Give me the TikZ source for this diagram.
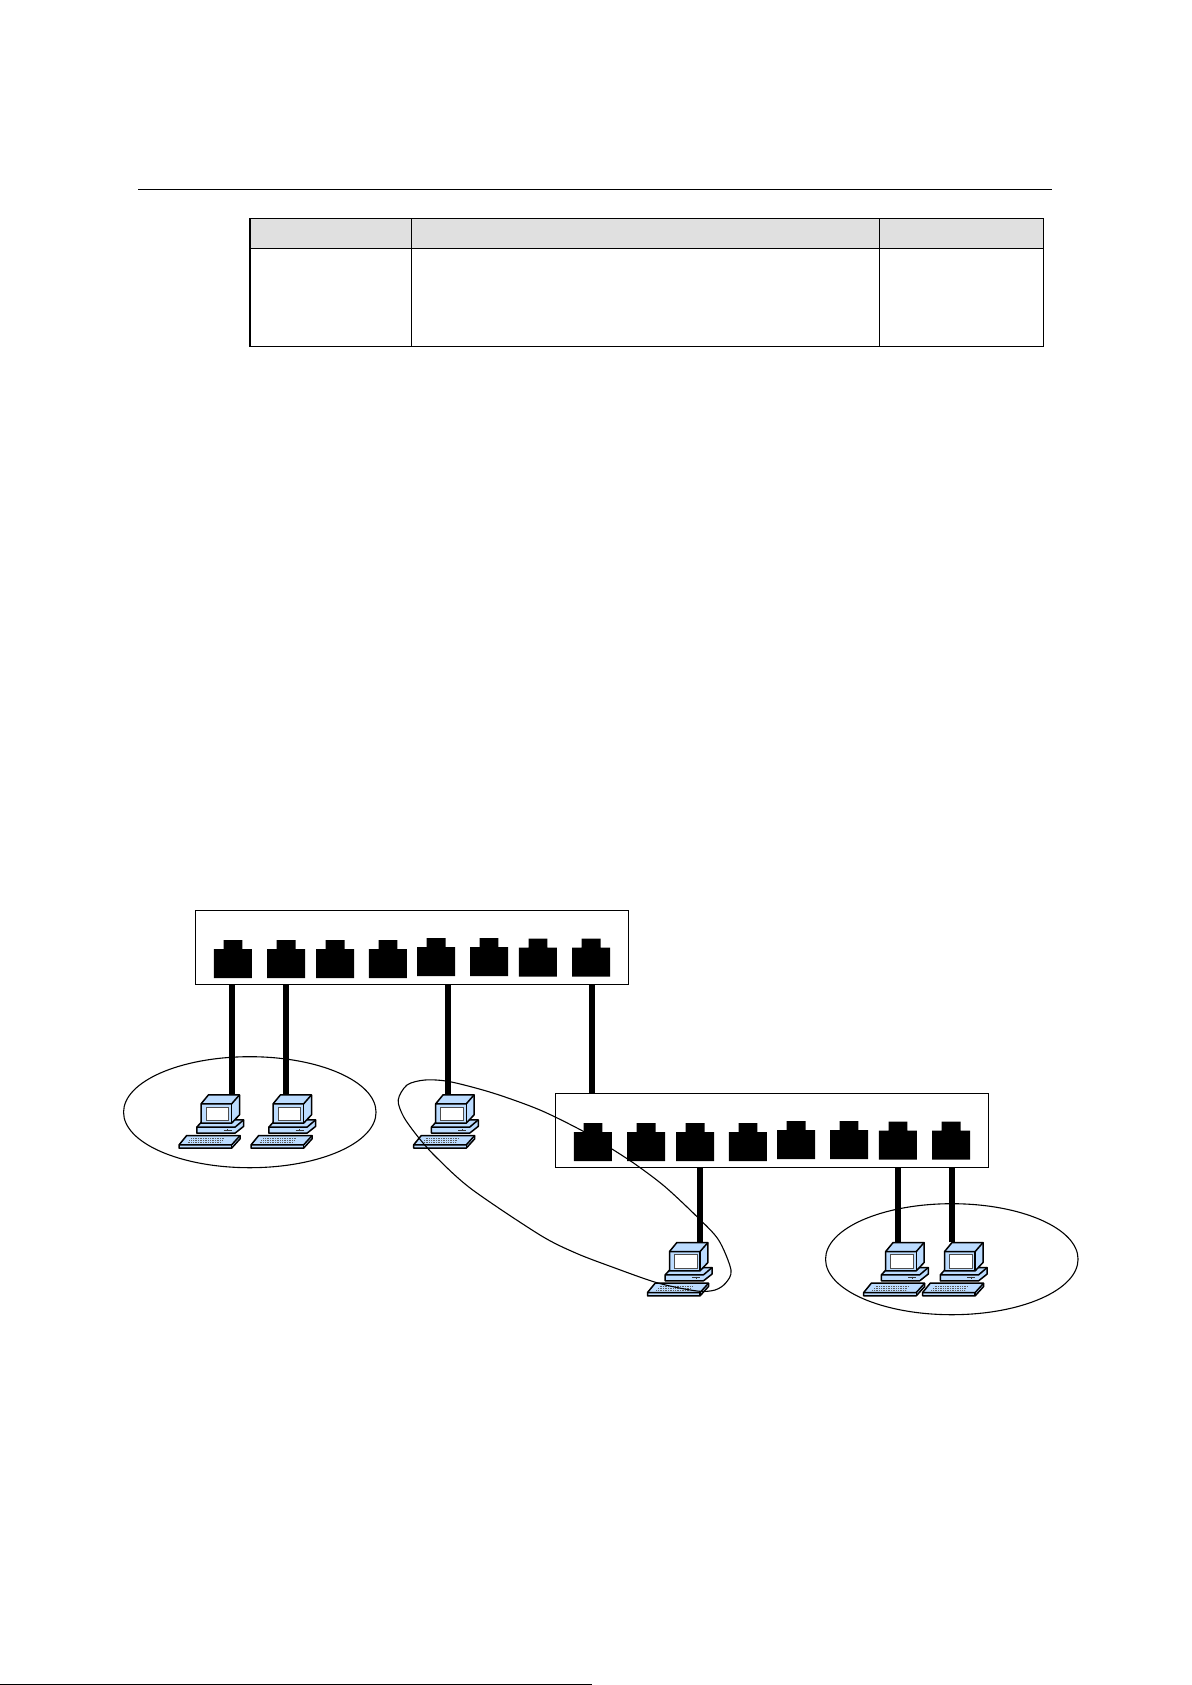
\documentclass[tikz,border=0pt]{standalone}
\usetikzlibrary{shapes.geometric}
\definecolor{pcblue}{HTML}{BCDCFF}
\definecolor{headgray}{HTML}{E0E0E0}
\tikzset{
  switchbox/.style={draw=black,line width=1.3pt,fill=white,rectangle,inner sep=0pt,minimum width=432.5pt,minimum height=73.5pt},
  pcbox/.style={rectangle,inner sep=0pt,minimum width=67pt,minimum height=55pt},
  groupring/.style={draw=black,line width=1.1pt,ellipse,inner sep=0pt,minimum width=252.5pt,minimum height=111pt},
  cable/.style={line width=6pt,black},
  ringline/.style={line width=1.1pt,black},
  tablerule/.style={line width=1.2pt,black},
  pcline/.style={line width=1.5pt,black,line join=round},
  rjport/.pic={
    \fill[black] (0,9) -- (9.6,9) -- (9.6,0) -- (28.4,0) -- (28.4,9) -- (38,9) -- (38,38) -- (0,38) -- cycle;
  },
  computer/.pic={
    % base
    \filldraw[pcline,fill=pcblue] (19.1,33.3) -- (24,28) -- (60,26) -- (66,26) -- (66,32.5) -- (57.4,39.3) -- (19.1,39.3) -- cycle;
    \draw[pcline] (19.1,33.3) -- (57.4,33.3) -- (66,26);
    \draw[line width=0.8pt,black!80] (45.8,36.3) -- (54,36.3);
    \draw[line width=0.8pt,black!80] (50,35) -- (50,37.6);
    % monitor
    \filldraw[pcline,fill=pcblue] (23.4,10) -- (30.8,1) -- (61.8,1) -- (61.8,21) -- (54,29.3) -- (23.4,29.3) -- cycle;
    \draw[pcline] (23.4,10) -- (54,10) -- (61.8,1);
    \draw[pcline] (54,10) -- (54,29.3);
    \filldraw[line width=0.7pt,draw=black!70,fill=white] (28.4,13.3) rectangle (50.8,26.7);
    % keyboard
    \filldraw[pcline,fill=pcblue] (9,41.7) -- (62.4,41.7) -- (62.4,45) -- (54,54.3) -- (1.4,54.3) -- (1.4,51) -- cycle;
    \draw[pcline] (1.4,51) -- (54,51) -- (62.4,41.7);
    \draw[pcline] (54,51) -- (54,54.3);
    \foreach \r/\a/\b in {45/13.4/47, 47/11.7/45.5, 49/10/44}
      \draw[line width=1pt,black!65,dash pattern=on 1pt off 0.7pt] (\a,\r) -- (\b,\r);
  }
}
\begin{document}
\begin{tikzpicture}[x=1pt,y=-1pt]
\useasboundingbox (0,0) rectangle (1191,1685);
\fill[white] (0,0) rectangle (1191,1685);

% page rule
\coordinate (ruleL) at (138.3,189.5);
\coordinate (ruleR) at (1052,189.5);
\draw[line width=1.3pt] (ruleL) -- (ruleR);

% table
\fill[headgray] (250,218.3) rectangle (1043.2,248.3);
\draw[tablerule] (250,218.3) rectangle (1043.2,346.3);
\draw[tablerule] (250,248.3) -- (1043.2,248.3);
\draw[tablerule] (411.2,218.3) -- (411.2,346.3);
\draw[tablerule] (879.3,218.3) -- (879.3,346.3);

% footer rule
\coordinate (footL) at (0,1684.5);
\coordinate (footR) at (592,1684.5);
\draw[line width=1.2pt] (footL) -- (footR);

% switches
\node[switchbox] (swA) at (412,947.5) {};
\node[switchbox] (swB) at (772,1130.5) {};

% computers
\node[pcbox] (pcA) at (211.4,1121.5) {};
\node[pcbox] (pcB) at (283.4,1121.5) {};
\node[pcbox] (pcC) at (446,1121.5) {};
\node[pcbox] (pcD) at (679.8,1269.2) {};
\node[pcbox] (pcE) at (896,1269.2) {};
\node[pcbox] (pcF) at (954.9,1269.2) {};

% connector ends at the tops of the computers
\coordinate (topA) at (231.8,1094);
\coordinate (topB) at (285.7,1094);
\coordinate (topC) at (448.2,1094);
\coordinate (topD) at (700,1242);
\coordinate (topE) at (898.2,1242);
\coordinate (topF) at (951.8,1242);
\coordinate (upB) at (591.8,1094);

% cables
\draw[cable] (topA |- swA.south) -- (topA);
\draw[cable] (topB |- swA.south) -- (topB);
\draw[cable] (topC |- swA.south) -- (topC);
\draw[cable] (upB |- swA.south) -- (upB |- swB.north);
\draw[cable] (topD |- swB.south) -- (topD);
\draw[cable] (topE |- swB.south) -- (topE);
\draw[cable] (topF |- swB.south) -- (topF);

% redraw switch outlines happen above cables: ports
\foreach \x/\y in {213.9/940,267.1/940,316.1/940,368.9/940,417.1/938,470/938,518.9/938.5,572.1/938.5}{
  \pic at (\x,\y) {rjport};
  \pic at ({\x+360},{\y+183}) {rjport};
}

% group rings
\node[groupring] (ringA) at (249.8,1112.2) {};
\node[groupring] (ringC) at (951.8,1259.2) {};

% computers artwork
\foreach \n in {pcA,pcB,pcC,pcD,pcE,pcF}
  \pic at (\n.north west) {computer};

% stretched ring over the middle pair
\draw[ringline] plot[smooth cycle,tension=0.5] coordinates {
  (398.2,1100) (407,1085) (425,1080) (450,1081.7) (492.9,1093) (540,1110) (584,1131.7)
  (612,1149) (636.4,1165) (665,1186.7) (697,1216.7) (718.6,1240) (731,1270) (725.7,1283)
  (715,1290) (697,1291) (657.9,1283) (611.4,1266.7) (575.7,1253) (540,1235) (471.4,1189)
  (435.7,1156.7) (417.9,1136.7) (403.6,1116.7)
};
\end{tikzpicture}
\end{document}
